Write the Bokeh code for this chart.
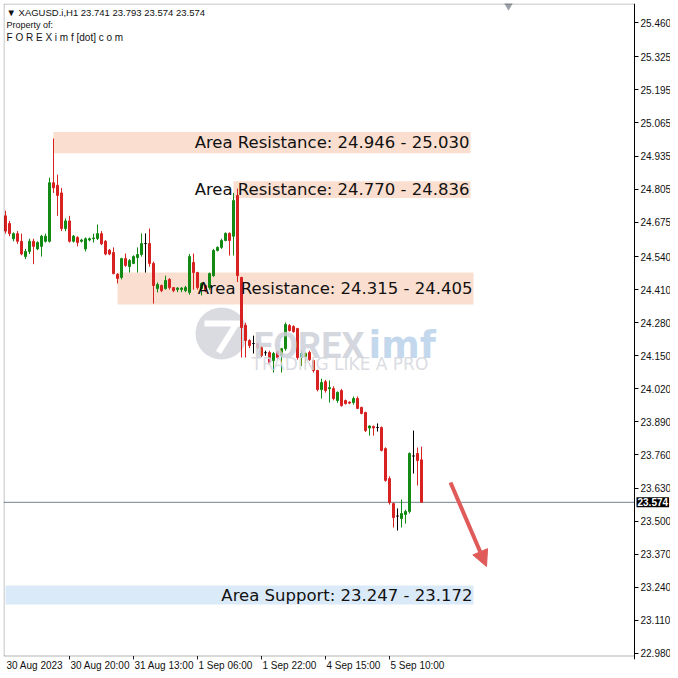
from bokeh.plotting import figure
from bokeh.models import (ColumnDataSource, Range1d, FixedTicker, Label,
                          Arrow, NormalHead, PrintfTickFormatter, BoxAnnotation)
from bokeh.embed import file_html
from bokeh.resources import INLINE
from bokeh.core.properties import value

# ---------------- data ----------------
symbol = "XAGUSD.i,H1"

opens = [24.700, 24.670, 24.610, 24.630, 24.600, 24.540, 24.560, 24.600, 24.570, 24.580,
         24.600, 24.600, 24.830, 24.820, 24.790, 24.650, 24.680, 24.600, 24.615, 24.600,
         24.570, 24.605, 24.610, 24.611, 24.630, 24.600, 24.565, 24.556, 24.470, 24.458,
         24.532, 24.501, 24.513, 24.536, 24.548, 24.591, 24.591, 24.513, 24.414, 24.426,
         24.414, 24.450, 24.418, 24.410, 24.410, 24.406, 24.399, 24.517, 24.477, 24.414,
         24.426, 24.418, 24.465, 24.564, 24.576, 24.603, 24.631, 24.620, 24.780, 24.458,
         24.270, 24.210, 24.198, 24.198, 24.182, 24.162, 24.163, 24.131, 24.167, 24.151,
         24.178, 24.269, 24.265, 24.257, 24.143, 24.147, 24.163, 24.131, 24.092, 24.017,
         24.048, 24.020, 24.021, 23.974, 24.013, 23.974, 23.968, 23.966, 23.982, 23.947,
         23.927, 23.866, 23.872, 23.868, 23.868, 23.785, 23.667, 23.569, 23.520, 23.510,
         23.526, 23.538, 23.756, 23.766, 23.741]
highs = [24.720, 24.680, 24.635, 24.640, 24.630, 24.570, 24.610, 24.610, 24.600, 24.625,
         24.630, 24.850, 25.004, 24.862, 24.810, 24.690, 24.700, 24.625, 24.620, 24.610,
         24.615, 24.615, 24.630, 24.666, 24.640, 24.605, 24.570, 24.576, 24.475, 24.535,
         24.552, 24.530, 24.545, 24.576, 24.631, 24.631, 24.650, 24.520, 24.438, 24.430,
         24.465, 24.455, 24.420, 24.420, 24.420, 24.425, 24.550, 24.552, 24.480, 24.438,
         24.430, 24.477, 24.570, 24.580, 24.610, 24.635, 24.635, 24.790, 24.807, 24.460,
         24.280, 24.215, 24.229, 24.200, 24.190, 24.170, 24.170, 24.165, 24.170, 24.180,
         24.281, 24.275, 24.270, 24.260, 24.170, 24.163, 24.170, 24.135, 24.095, 24.060,
         24.055, 24.053, 24.030, 24.010, 24.020, 23.978, 23.970, 23.990, 23.990, 23.950,
         23.930, 23.876, 23.876, 23.884, 23.872, 23.790, 23.676, 23.573, 23.550, 23.585,
         23.545, 23.770, 23.856, 23.789, 23.793]
lows = [24.630, 24.620, 24.600, 24.590, 24.545, 24.530, 24.550, 24.510, 24.565, 24.540,
        24.595, 24.595, 24.790, 24.700, 24.640, 24.640, 24.595, 24.595, 24.580, 24.595,
        24.560, 24.600, 24.595, 24.605, 24.585, 24.545, 24.545, 24.470, 24.434, 24.450,
        24.500, 24.477, 24.510, 24.477, 24.540, 24.477, 24.500, 24.355, 24.399, 24.400,
        24.410, 24.410, 24.400, 24.400, 24.400, 24.400, 24.390, 24.410, 24.410, 24.387,
        24.400, 24.410, 24.460, 24.560, 24.570, 24.600, 24.544, 24.544, 24.440, 24.143,
        24.143, 24.180, 24.159, 24.175, 24.145, 24.150, 24.115, 24.084, 24.135, 24.084,
        24.170, 24.245, 24.240, 24.135, 24.110, 24.120, 24.130, 24.084, 24.010, 23.982,
        24.005, 23.966, 23.975, 23.965, 23.950, 23.958, 23.960, 23.958, 23.940, 23.920,
        23.850, 23.836, 23.836, 23.852, 23.774, 23.655, 23.565, 23.475, 23.463, 23.475,
        23.490, 23.530, 23.687, 23.640, 23.574]
closes = [24.640, 24.630, 24.630, 24.600, 24.550, 24.560, 24.600, 24.580, 24.595, 24.620,
          24.620, 24.830, 24.810, 24.780, 24.650, 24.680, 24.600, 24.620, 24.595, 24.605,
          24.610, 24.610, 24.613, 24.630, 24.590, 24.550, 24.550, 24.473, 24.454, 24.532,
          24.505, 24.524, 24.540, 24.548, 24.591, 24.591, 24.513, 24.426, 24.430, 24.406,
          24.446, 24.418, 24.406, 24.416, 24.416, 24.418, 24.540, 24.477, 24.418, 24.434,
          24.406, 24.473, 24.564, 24.576, 24.603, 24.631, 24.603, 24.760, 24.465, 24.261,
          24.210, 24.190, 24.198, 24.182, 24.151, 24.162, 24.123, 24.159, 24.143, 24.178,
          24.273, 24.249, 24.245, 24.143, 24.159, 24.159, 24.135, 24.092, 24.017, 24.045,
          24.013, 24.025, 23.982, 24.006, 23.954, 23.962, 23.964, 23.982, 23.943, 23.923,
          23.856, 23.874, 23.866, 23.868, 23.778, 23.660, 23.573, 23.514, 23.520, 23.530,
          23.538, 23.766, 23.756, 23.738, 23.574]

date_tick_bars = [0, 16, 32, 48, 64, 80, 96]
date_tick_labels = ["30 Aug 2023", "30 Aug 20:00", "31 Aug 13:00", "1 Sep 06:00",
                    "1 Sep 22:00", "4 Sep 15:00", "5 Sep 10:00"]

price_ticks = [25.460, 25.325, 25.195, 25.065, 24.935, 24.805, 24.675, 24.540, 24.410,
               24.280, 24.150, 24.020, 23.890, 23.760, 23.630, 23.500, 23.370, 23.240,
               23.110, 22.980]

zone_start = [12, 57, 28, 0]
zone_end = [116.25, 116.25, 117.0, 117.0]
zone_low = [24.946, 24.770, 24.352, 23.172]
zone_high = [25.030, 24.836, 24.477, 23.247]
zone_text = ["Area Resistance: 24.946 - 25.030",
             "Area Resistance: 24.770 - 24.836",
             "Area Resistance: 24.315 - 24.405",
             "Area Support: 23.247 - 23.172"]
zone_kind = ["res", "res", "res", "sup"]

# ---------------- helpers (reference pixel -> data) ----------------
def X(px):
    return (px - 5) / 4.0

def Y(py):
    return 25.460 - (py - 22) / 254.4

AXIS_X = X(634)          # where the price scale sits
GREEN = "#138a13"
RED = "#d82222"

# Arial / Liberation Sans advance widths (em) for placing the date labels
AW = {" ": 0.278, ":": 0.278, "A": 0.667, "S": 0.667, "u": 0.556, "g": 0.556,
      "e": 0.556, "p": 0.556}
def text_w(s, size):
    return sum(AW.get(ch, 0.556) for ch in s) * size

n = len(opens)
idx = list(range(n))
col = [GREEN if c > o else (RED if c < o else "black") for o, c in zip(opens, closes)]

src = ColumnDataSource(dict(x=idx, o=opens, h=highs, l=lows, c=closes,
                            top=[max(a, b) for a, b in zip(opens, closes)],
                            bot=[min(a, b) for a, b in zip(opens, closes)],
                            col=col))

p = figure(frame_width=667, frame_height=656, x_range=Range1d(-0.5, 166.25),
           y_range=Range1d(Y(659), Y(3)), y_axis_location="right",
           output_backend="svg", toolbar_location=None,
           min_border_left=3, min_border_top=3, min_border_right=0, min_border_bottom=10)
p.grid.visible = False
p.outline_line_color = None
p.background_fill_color = "white"
p.border_fill_color = "white"

# price scale, drawn at a fixed location inside the frame
p.yaxis.fixed_location = AXIS_X
p.yaxis.ticker = FixedTicker(ticks=price_ticks)
p.yaxis.formatter = PrintfTickFormatter(format="%.3f")
p.yaxis.major_tick_out = 4
p.yaxis.major_tick_in = 0
p.yaxis.minor_tick_out = 0
p.yaxis.minor_tick_in = 0
p.yaxis.major_label_standoff = 2
p.yaxis.major_label_text_font = "Liberation Sans"
p.yaxis.major_label_text_font_size = "10px"
p.yaxis.major_label_text_color = "#111111"
p.yaxis.axis_line_color = "black"
p.yaxis.major_tick_line_color = "black"

# time scale labels (left edge of each label sits just right of its bar)
lab_pos = [round(b + (text_w(t, 10) / 2 + 1) / 4.0, 2)
           for b, t in zip(date_tick_bars, date_tick_labels)]
p.xaxis.ticker = FixedTicker(ticks=lab_pos)
p.xaxis.major_label_overrides = {pp: t for pp, t in zip(lab_pos, date_tick_labels)}
p.xaxis.axis_line_color = None
p.xaxis.major_tick_line_color = None
p.xaxis.minor_tick_line_color = None
p.xaxis.major_tick_out = 0
p.xaxis.major_tick_in = 0
p.xaxis.minor_tick_out = 0
p.xaxis.minor_tick_in = 0
p.xaxis.major_label_standoff = 0
p.xaxis.major_label_text_font = "Liberation Sans"
p.xaxis.major_label_text_font_size = "10px"
p.xaxis.major_label_text_color = "#111111"

# watermark
p.scatter([X(221)], [Y(333)], size=52, marker="circle", fill_color="#cfd2da",
          line_color=None, fill_alpha=0.8)
p.line([X(204), X(240)], [Y(323), Y(323)], line_color="white", line_width=6)
p.line([X(236), X(218)], [Y(323), Y(352)], line_color="white", line_width=6)
p.add_layout(Label(x=X(253), y=Y(345), text="FOREX", text_font="Roboto",
                   text_font_style="bold", text_font_size="36px", text_color="#cdd0d9",
                   text_alpha=0.85, text_baseline="alphabetic"))
p.add_layout(Label(x=X(368), y=Y(345), text="imf", text_font="DejaVu Sans",
                   text_font_style="bold", text_font_size="37px", text_color="#b9d1ea",
                   text_alpha=0.85, text_baseline="alphabetic"))
p.add_layout(Label(x=X(251), y=Y(363), text="TRADING LIKE A PRO",
                   text_font="DejaVu Sans", text_font_size="17px",
                   text_color="#d6d8de", text_alpha=0.9, text_baseline="alphabetic"))

# zones
zsrc = ColumnDataSource(dict(left=zone_start, right=zone_end, bottom=zone_low, top=zone_high,
                             color=["#fadfd0" if k == "res" else "#dbeaf8" for k in zone_kind],
                             tx=[e - 0.25 for e in zone_end],
                             ty=[(a + b) / 2 for a, b in zip(zone_low, zone_high)],
                             text=zone_text))
p.quad(left="left", right="right", bottom="bottom", top="top", fill_color="color",
       line_color=None, source=zsrc)

# current price line (up to the price scale)
last_price = closes[-1]
p.line([X(3), AXIS_X], [last_price, last_price], line_color="#74818e", line_width=1)

# candles
p.segment(x0="x", x1="x", y0="l", y1="h", line_color="col", line_width=1, source=src)
p.vbar(x="x", width=0.5, top="top", bottom="bot", fill_color="col", line_color="col",
       line_width=1, source=src)

# zone labels
p.text(x="tx", y="ty", text="text", source=zsrc, text_font=value("DejaVu Sans"),
       text_font_size="16.5px", text_align="right", text_baseline="middle",
       text_color="#111111")

# arrow
p.add_layout(Arrow(x_start=X(450), y_start=Y(482), x_end=X(486), y_end=Y(566),
                   line_color="#e05a5a", line_width=4,
                   end=NormalHead(size=16, fill_color="#e05a5a", line_color="#e05a5a")))

# chart frame and time-scale tick marks
p.add_layout(BoxAnnotation(left=X(3.5), right=AXIS_X, top=Y(3.5), bottom=Y(655.5),
                           fill_alpha=0, fill_color=None, line_color="black", line_width=1))
tick_bars = date_tick_bars[1:]
p.segment(x0=tick_bars, x1=tick_bars, y0=[Y(655.5)] * len(tick_bars),
          y1=[Y(660)] * len(tick_bars), line_color="#222222", line_width=1)

# chart-shift marker at the top
p.scatter([X(508)], [Y(5)], marker="inverted_triangle", size=9, fill_color="#9aa1a8",
          line_color=None)

# header
hdr = "\u25BC " + symbol + "  " + " ".join(f"{v:.3f}" for v in
                                             (opens[-1], highs[-1], lows[-1], closes[-1]))
for t, py, fs in [(hdr, 12, "9.5px"), ("Property of:", 24, "9px"),
                  ("F O R E X i m f [dot] c o m", 37, "10px")]:
    p.add_layout(Label(x=X(6), y=Y(py), text=t, text_font="Liberation Sans",
                       text_font_size=fs, text_color="#111111", text_baseline="middle"))

# price tag on the scale
p.add_layout(Label(x=X(636), y=last_price, text=f"{last_price:.3f}",
                   text_font="Liberation Sans", text_font_size="10px", text_color="white",
                   text_font_style="bold", text_baseline="middle",
                   background_fill_color="black", padding=1))

open("out.html", "w").write(file_html(p, INLINE))
